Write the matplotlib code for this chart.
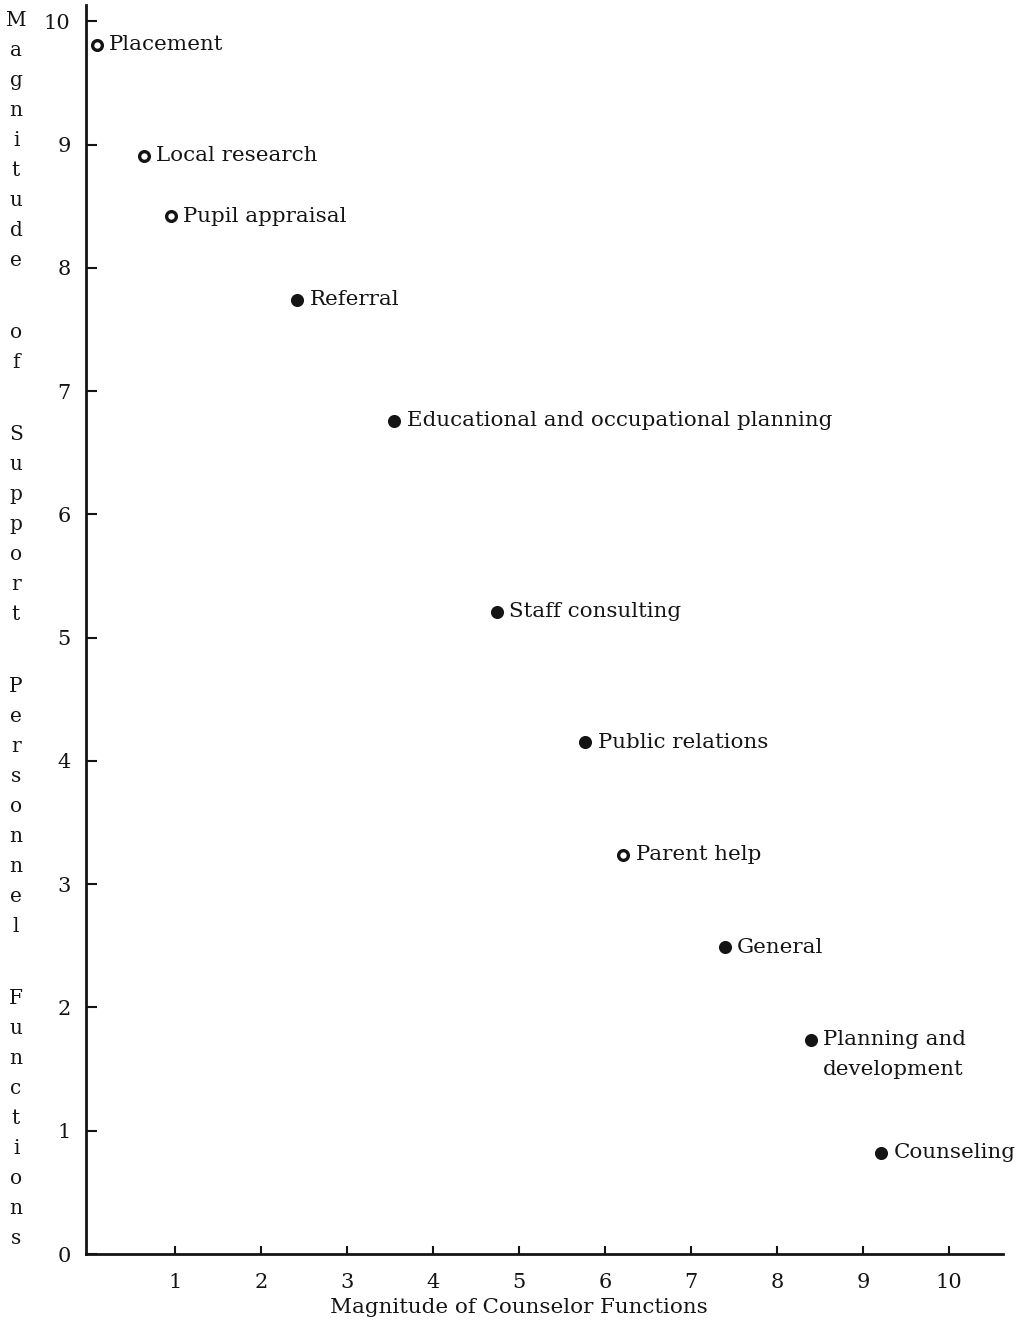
import matplotlib
matplotlib.use("Agg")
import matplotlib.pyplot as plt

# Counselor vs. support-personnel magnitude for each guidance function
functions = [
    "Placement", "Local research", "Pupil appraisal", "Referral",
    "Educational and occupational planning", "Staff consulting",
    "Public relations", "Parent help", "General",
    "Planning and\ndevelopment", "Counseling",
]
counselor = [0.09, 0.64, 0.95, 2.42, 3.55, 4.74, 5.77, 6.21, 7.39, 8.39, 9.21]
support = [9.81, 8.91, 8.42, 7.74, 6.76, 5.21, 4.15, 3.24, 2.49, 1.74, 0.82]

x_ticks = list(range(1, 11))
y_ticks = list(range(0, 11))
x_title = "Magnitude of Counselor Functions"
y_title = "Magnitude of Support Personnel Functions"

# functions drawn with an open ring rather than a solid dot
open_rings = {"Placement", "Local research", "Pupil appraisal", "Parent help"}

FONT = "DejaVu Serif"
INK = "#141414"
LABEL_SIZE = 15.4
LINE_GAP = 1.7          # spacing inside the two-line label
LINE_PTS = 21.6         # resulting baseline distance, points

W, H = 1023, 1327
fig = plt.figure(figsize=(W / 100, H / 100), dpi=100)
ax = fig.add_axes([0.084, 0.055, 0.896, 0.941])

for name, cx, sy in zip(functions, counselor, support):
    face = "white" if name in open_rings else INK
    ax.plot(cx, sy, "o", ms=7, mfc=face, mec=INK, mew=2.4, zorder=3)
    extra = name.count("\n")
    ax.annotate(name, (cx, sy), xytext=(9, -extra * LINE_PTS / 2),
                textcoords="offset points", va="center", ha="left",
                fontsize=LABEL_SIZE, family=FONT, color=INK,
                linespacing=LINE_GAP)

ax.set_xlim(-0.035, 10.62)
ax.set_ylim(0, 10.13)
ax.set_xticks(x_ticks)
ax.set_yticks(y_ticks)
ax.set_xticklabels([str(t) for t in x_ticks], family=FONT, fontsize=15, color=INK)
ax.set_yticklabels([str(t) for t in y_ticks], family=FONT, fontsize=15, color=INK)
ax.tick_params(axis="x", direction="in", length=6, width=1.5, pad=14, color=INK)
ax.tick_params(axis="y", direction="in", length=8, width=1.5, pad=11, color=INK)

for side in ("top", "right"):
    ax.spines[side].set_visible(False)
for side in ("left", "bottom"):
    ax.spines[side].set_linewidth(2)
    ax.spines[side].set_color(INK)

ax.set_xlabel(x_title, family=FONT, fontsize=15.4, color=INK, labelpad=4,
              x=0.472)

# y title is set as a column of single letters, one per line
y_px, letter_px, word_px = 20, 30, 72
for word in y_title.split():
    for ch in word:
        fig.text(16 / W, 1 - y_px / H, ch, ha="center", va="center",
                 family=FONT, fontsize=14.5, color=INK)
        y_px += letter_px
    y_px += word_px - letter_px

fig.savefig("out.png", dpi=100)
